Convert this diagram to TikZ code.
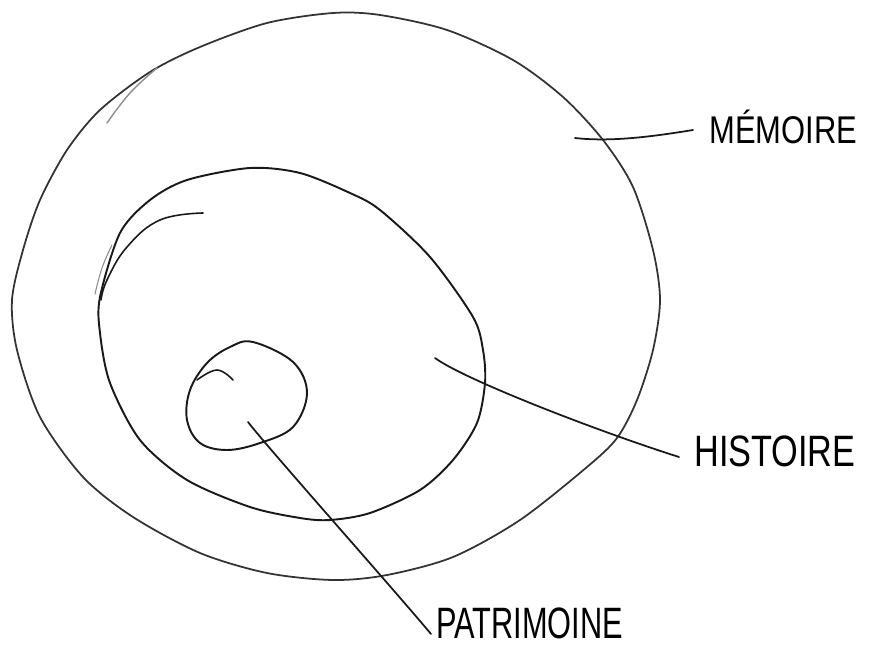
\documentclass[tikz,border=0pt]{standalone}
\usepackage{fontspec}
\setmainfont{Liberation Sans}
\begin{document}
\begin{tikzpicture}[x=0.02cm,y=-0.02cm,
  ink/.style={draw=black!90, line width=1.1pt, line cap=round, line join=round},
  faint/.style={draw=black!45, line width=0.8pt, line cap=round},
  lbl/.style={inner sep=0pt, anchor=west, text=black}]
\useasboundingbox (0,0) rectangle (874,648);
% outer ellipse (MEMOIRE)
\draw[ink, draw=black!80, line width=1pt] plot[smooth cycle, tension=0.5] coordinates {
 (267,23) (333,13) (380,15) (447,30) (513,60) (563,97) (603,140) (633,187) (653,250)
 (660,300) (653,350) (637,400) (617,438) (587,467) (520,520) (453,557) (387,575)
 (333,580) (267,573) (200,553) (133,517) (83,477) (40,417) (17,350) (12,300)
 (23,250) (40,200) (67,150) (100,110) (150,72) (200,47)};
\draw[faint] plot[smooth, tension=0.7] coordinates {(107,123) (130,93) (157,68)};
% middle ellipse (HISTOIRE)
\draw[ink] plot[smooth cycle, tension=0.5] coordinates {
 (187,180) (250,168) (300,173) (350,193) (380,210) (430,257) (473,317) (483,350)
 (485,383) (477,423) (453,460) (420,490) (370,513) (330,520) (300,518) (250,507)
 (187,480) (140,440) (110,383) (100,333) (100,297) (120,233) (150,200)};
\draw[ink, line width=0.9pt] plot[smooth, tension=0.7] coordinates {(203,213) (160,220) (127,247) (107,280) (101,300)};
\draw[faint, line width=0.6pt] plot[smooth, tension=0.7] coordinates {(95,294) (102,268) (112,245)};
% inner circle (PATRIMOINE)
\draw[ink] plot[smooth cycle, tension=0.6] coordinates {
 (253,342) (293,362) (307,393) (293,427) (260,443) (227,450) (200,443) (187,420) (190,390) (207,363) (230,347)};
\draw[ink, line width=0.9pt] plot[smooth, tension=0.7] coordinates {(197,380) (217,370) (233,380)};
% labels
\node[lbl] (mem) at (709,127) {\fontsize{22pt}{22pt}\selectfont\scalebox{0.8}[1]{MÉMOIRE}};
\node[lbl] (his) at (694,451) {\fontsize{25pt}{25pt}\selectfont\scalebox{0.78}[1]{HISTOIRE}};
\node[lbl] (pat) at (436,623) {\fontsize{25pt}{25pt}\selectfont\scalebox{0.7}[1]{PATRIMOINE}};
% connector ends
\coordinate (m1) at (575,138);
\coordinate (m2) at ([shift={(-16,3)}]mem.west);
\coordinate (h1) at (435,358);
\coordinate (h2) at ([shift={(-15,6)}]his.west);
\coordinate (p1) at (248,422);
\coordinate (p2) at ([shift={(-5,11)}]pat.west);
% connectors
\draw[ink, line width=1pt] (m1) .. controls (610,142) and (650,137) .. (m2);
\draw[ink, line width=1pt] (h1) .. controls (465,380) and (600,432) .. (h2);
\draw[ink, line width=1pt] (p1) .. controls (268,448) and (390,585) .. (p2);
\end{tikzpicture}
\end{document}
